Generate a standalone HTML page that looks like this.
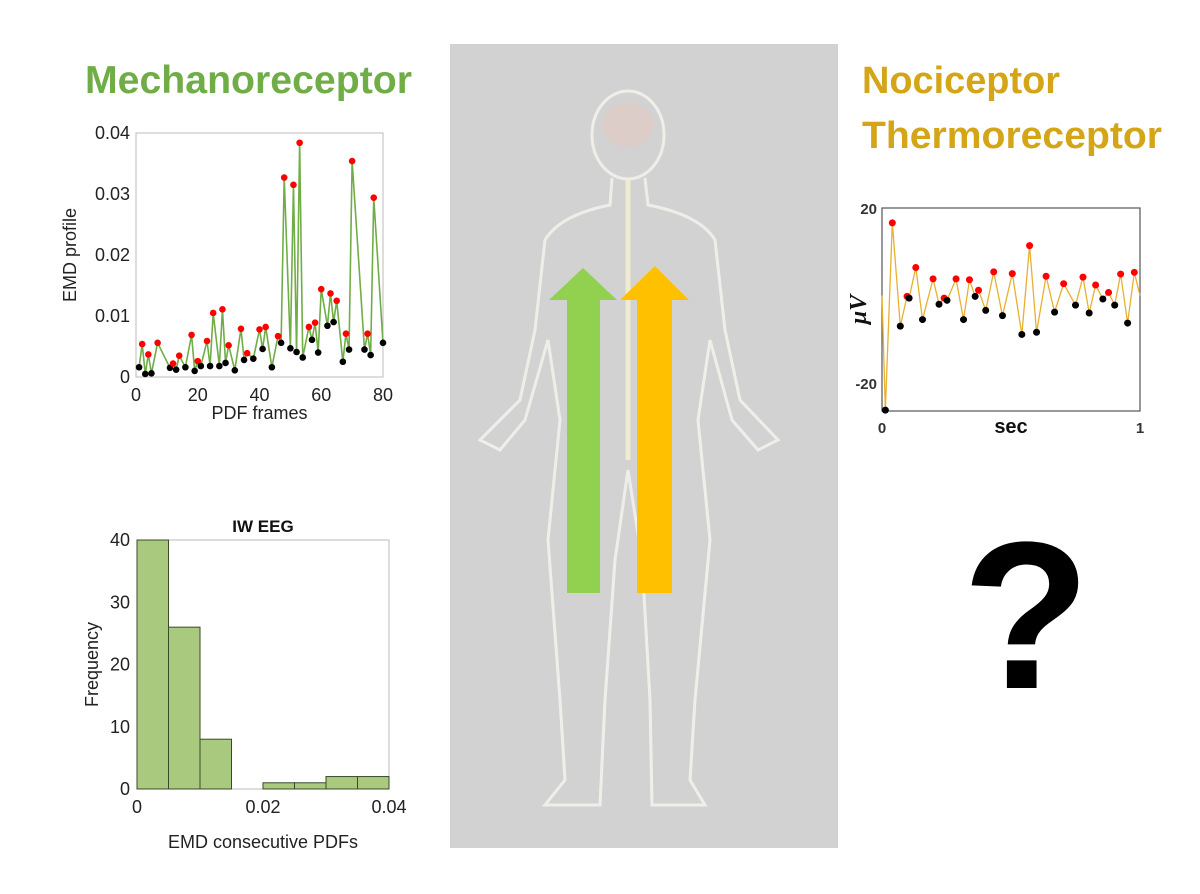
<!DOCTYPE html>
<html><head><meta charset="utf-8"><style>
html,body{margin:0;padding:0;background:#fff;}
svg{display:block;font-family:"Liberation Sans",sans-serif;}
</style></head><body>
<svg id="root" width="1200" height="894" viewBox="0 0 1200 894" xmlns="http://www.w3.org/2000/svg">
<text x="85" y="93" font-size="39" font-weight="bold" fill="#70ad47" textLength="327" lengthAdjust="spacingAndGlyphs">Mechanoreceptor</text>
<text x="862" y="93" font-size="38" font-weight="bold" fill="#d4a516" textLength="198" lengthAdjust="spacingAndGlyphs">Nociceptor</text>
<text x="862" y="148" font-size="38" font-weight="bold" fill="#d4a516" textLength="300" lengthAdjust="spacingAndGlyphs">Thermoreceptor</text>

<g>
<rect x="450" y="44" width="388" height="804" fill="#d2d2d2"/>
<g fill="none" stroke="#f4f4ee" stroke-width="3" opacity="0.85">
<ellipse cx="628" cy="135" rx="36" ry="44"/>
<path d="M612 178 L610 205 Q560 215 545 240 L535 330 L520 400 L480 440 L500 450 L525 420 L548 340 L560 420 L548 540 L560 700 L565 780 L545 805 L600 805 L605 700 L615 560 L628 470 L642 560 L650 700 L652 805 L705 805 L690 780 L695 700 L710 540 L698 420 L710 340 L732 420 L758 450 L778 440 L740 400 L725 330 L715 240 Q700 215 648 205 L645 178"/>
<path d="M628 180 L628 460" stroke="#f3f0d0" stroke-width="5"/>
</g>
<ellipse cx="628" cy="125" rx="26" ry="22" fill="#e8c8c0" opacity="0.5"/>
</g>
<polygon fill="#92d050" points="567,593 600,593 600,300 617,300 583,268 549,300 567,300"/>
<polygon fill="#ffc000" points="637,593 672,593 672,300 689,300 655,266 620,300 637,300"/>

<text x="962" y="688" font-size="210" font-weight="bold" fill="#000">?</text>

<g id="emd"></g>
<g id="hist"></g>
<g id="uv"></g>
</svg>
<script>
// EMD profile chart data
const emdX = [1,2,3,4,5,7,11,12,13,14,16,18,19,20,21,23,24,25,27,28,29,30,32,34,35,36,38,40,41,42,44,46,47,48,50,51,52,53,54,56,57,58,59,60,62,63,64,65,67,68,69,70,74,75,76,77,80];
const emdY = [0.0016,0.0054,0.0005,0.0037,0.0006,0.0056,0.0015,0.0022,0.0012,0.0035,0.0016,0.0069,0.0010,0.0026,0.0018,0.0059,0.0018,0.0105,0.0018,0.0111,0.0023,0.0052,0.0011,0.0079,0.0028,0.0039,0.0030,0.0078,0.0046,0.0082,0.0016,0.0067,0.0056,0.0327,0.0047,0.0315,0.0041,0.0384,0.0032,0.0082,0.0061,0.0089,0.0040,0.0144,0.0084,0.0137,0.0090,0.0125,0.0025,0.0071,0.0045,0.0354,0.0045,0.0071,0.0036,0.0294,0.0056];
const emdPeak = [0,1,0,1,0,1,0,1,0,1,0,1,0,1,0,1,0,1,0,1,0,1,0,1,0,1,0,1,0,1,0,1,0,1,0,1,0,1,0,1,0,1,0,1,0,1,0,1,0,1,0,1,0,1,0,1,0];
const emdXTicks = [0,20,40,60,80];
const emdYTicks = [0,0.01,0.02,0.03,0.04];
// Histogram data
const histEdges = [0,0.005,0.01,0.015,0.02,0.025,0.03,0.035,0.04];
const histCounts = [40,26,8,0,1,1,2,2];
const histXTicks = [0,0.02,0.04];
const histYTicks = [0,10,20,30,40];
// µV chart data
const uvX = [0,0.013,0.04,0.071,0.097,0.105,0.131,0.157,0.198,0.221,0.241,0.252,0.287,0.316,0.339,0.361,0.374,0.402,0.433,0.467,0.505,0.542,0.572,0.599,0.636,0.669,0.704,0.750,0.779,0.803,0.828,0.856,0.878,0.902,0.925,0.952,0.978,1.0];
const uvY = [0,-26.2,16.6,-7.0,-0.2,-0.6,6.4,-5.5,3.8,-2.0,-0.6,-1.1,3.8,-5.5,3.6,-0.2,1.2,-3.4,5.4,-4.6,5.0,-8.9,11.4,-8.4,4.4,-3.8,2.7,-2.2,4.2,-4.0,2.4,-0.8,0.7,-2.2,4.9,-6.3,5.3,0];
const uvMark = [-1,0,1,0,1,0,1,0,1,0,1,0,1,0,1,0,1,0,1,0,1,0,1,0,1,0,1,0,1,0,1,0,1,0,1,0,1,-1];
const uvYTicks = [-20,20];
const uvXTicks = [0,1];

const NS="http://www.w3.org/2000/svg";
function mk(parent,tag,attrs,text){const e=document.createElementNS(NS,tag);for(const k in attrs)e.setAttribute(k,attrs[k]);if(text!==undefined)e.textContent=text;parent.appendChild(e);return e;}

// EMD chart
(function(){
const g=document.getElementById('emd');
const L=136,R=383,T=133,B=377;
const sx=v=>L+(v-0)/(80-0)*(R-L), sy=v=>B-(v-0)/(0.04)*(B-T);
const box=mk(g,'rect',{x:L,y:T,width:R-L,height:B-T,fill:'#fff',stroke:'#bbb','stroke-width':1});


emdXTicks.forEach(t=>{const e=mk(g,'text',{x:sx(t),y:B+24,'font-size':18,'text-anchor':'middle',fill:'#222'},String(t));

});
emdYTicks.forEach(t=>{const e=mk(g,'text',{x:L-6,y:sy(t)+6,'font-size':18,'text-anchor':'end',fill:'#222'},String(t));

});
const xl=mk(g,'text',{x:(L+R)/2,y:419,'font-size':18,'text-anchor':'middle',fill:'#222'},'PDF frames');


const yl=mk(g,'text',{x:0,y:0,'font-size':18,'text-anchor':'middle',fill:'#222',transform:`translate(76,${(T+B)/2}) rotate(-90)`},'EMD profile');


const pts=emdX.map((x,i)=>sx(x)+','+sy(emdY[i])).join(' ');
const ln=mk(g,'polyline',{points:pts,fill:'none',stroke:'#70ad47','stroke-width':1.6});


emdX.forEach((x,i)=>{const c=mk(g,'circle',{cx:sx(x),cy:sy(emdY[i]),r:3.3,fill:emdPeak[i]?'#f00':'#000'});

});
})();

// Histogram
(function(){
const g=document.getElementById('hist');
const L=137,R=389,T=540,B=789;
const sx=v=>L+v/0.04*(R-L), sy=v=>B-v/40*(B-T);
const box=mk(g,'rect',{x:L,y:T,width:R-L,height:B-T,fill:'#fff',stroke:'#bbb','stroke-width':1});


histCounts.forEach((c,i)=>{if(c<=0)return;const b=mk(g,'rect',{x:sx(histEdges[i]),y:sy(c),width:sx(histEdges[i+1])-sx(histEdges[i]),height:sy(0)-sy(c),fill:'#a9c97f',stroke:'#3a4a2a','stroke-width':1});

});
histXTicks.forEach(t=>{const e=mk(g,'text',{x:sx(t),y:B+24,'font-size':18,'text-anchor':'middle',fill:'#222'},String(t));

});
histYTicks.forEach(t=>{const e=mk(g,'text',{x:L-7,y:sy(t)+6,'font-size':18,'text-anchor':'end',fill:'#222'},String(t));

});
const ti=mk(g,'text',{x:(L+R)/2,y:532,'font-size':17,'font-weight':'bold','text-anchor':'middle',fill:'#111'},'IW EEG');


const xl=mk(g,'text',{x:(L+R)/2,y:848,'font-size':18,'text-anchor':'middle',fill:'#222'},'EMD consecutive PDFs');


const yl=mk(g,'text',{x:0,y:0,'font-size':18,'text-anchor':'middle',fill:'#222',transform:`translate(98,${(T+B)/2}) rotate(-90)`},'Frequency');


})();

// µV chart
(function(){
const g=document.getElementById('uv');
const L=882,R=1140,T=208,B=411;
const sx=v=>L+v*(R-L), sy=v=>T+(20-v)/40*(383-T);
const box=mk(g,'rect',{x:L,y:T,width:R-L,height:B-T,fill:'#fff',stroke:'#555','stroke-width':1.2});


uvYTicks.forEach(t=>{const e=mk(g,'text',{x:L-5,y:sy(t)+6,'font-size':15,'font-weight':'bold','text-anchor':'end',fill:'#333'},String(t));

});
uvXTicks.forEach(t=>{const e=mk(g,'text',{x:sx(t),y:B+22,'font-size':15,'font-weight':'bold','text-anchor':'middle',fill:'#333'},String(t));

});
const xl=mk(g,'text',{x:(L+R)/2,y:B+22,'font-size':20,'font-weight':'bold','text-anchor':'middle',fill:'#111'},'sec');


const yl=mk(g,'text',{x:0,y:0,'font-size':24,'font-weight':'bold','font-style':'italic','font-family':'Liberation Serif,serif','text-anchor':'middle',fill:'#111',transform:`translate(866,${(T+B)/2}) rotate(-90)`},'\u03BCV');


const pts=uvX.map((x,i)=>sx(x)+','+sy(uvY[i])).join(' ');
const ln=mk(g,'polyline',{points:pts,fill:'none',stroke:'#e8b030','stroke-width':1.3});


uvX.forEach((x,i)=>{if(uvMark[i]<0)return;const c=mk(g,'circle',{cx:sx(x),cy:sy(uvY[i]),r:3.5,fill:uvMark[i]?'#f00':'#000'});

});
})();
</script>
</body></html>
